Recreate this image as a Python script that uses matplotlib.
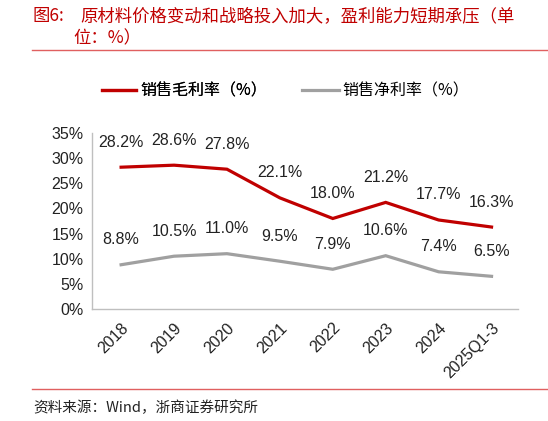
import matplotlib
matplotlib.use("Agg")
import matplotlib.pyplot as plt
from matplotlib.lines import Line2D

plt.rcParams['font.family'] = ['Liberation Sans', 'Noto Sans CJK SC', 'DejaVu Sans']

categories = ["2018", "2019", "2020", "2021", "2022", "2023", "2024", "2025Q1-3"]
gross_margin = [28.2, 28.6, 27.8, 22.1, 18.0, 21.2, 17.7, 16.3]
net_margin = [8.8, 10.5, 11.0, 9.5, 7.9, 10.6, 7.4, 6.5]
yticks = [0, 5, 10, 15, 20, 25, 30, 35]
title_label = "图6:"
title_line1 = "原材料价格变动和战略投入加大，盈利能力短期承压（单"
title_line2 = "位：%）"
source_text = "资料来源：Wind，浙商证券研究所"
legend_labels = ["销售毛利率（%）", "销售净利率（%）"]

RED = "#C00000"
GRAY = "#A0A0A0"
W, H = 548, 421
CJK = ['Noto Sans CJK SC', 'DejaVu Sans']

fig = plt.figure(figsize=(W / 100, H / 100), dpi=100)
ax = fig.add_axes([92 / W, 1 - 309 / H, (518 - 92) / W, (309 - 133) / H])

x = list(range(len(categories)))
l1, = ax.plot(x, gross_margin, color=RED, lw=2.3, solid_joinstyle='miter')
l2, = ax.plot(x, net_margin, color=GRAY, lw=2.3, solid_joinstyle='miter')

for xi, v in zip(x, gross_margin):
    ax.annotate(f"{v:.1f}%", (xi, v), xytext=(0, 18), textcoords='offset points',
                ha='center', va='center', fontsize=11.5, color='#222222')
for xi, v in zip(x, net_margin):
    ax.annotate(f"{v:.1f}%", (xi, v), xytext=(0, 18), textcoords='offset points',
                ha='center', va='center', fontsize=11.5, color='#222222')

ax.set_xlim(-0.55, 7.5)
ax.set_ylim(0, 35)
ax.set_yticks(yticks)
ax.set_yticklabels([f"{t}%" for t in yticks], fontsize=11.5, color='#222222')
ax.set_xticks(x)
ax.set_xticklabels(categories, rotation=45, ha='right', rotation_mode='anchor',
                   fontsize=11.5, color='#222222')
ax.tick_params(axis='both', length=0, pad=6)
ax.tick_params(axis='x', pad=8)
for s in ['top', 'right']:
    ax.spines[s].set_visible(False)
for s in ['left', 'bottom']:
    ax.spines[s].set_color('#BFBFBF')
    ax.spines[s].set_linewidth(1.0)

# Legend (two separate legends to position each entry)
leg1 = fig.legend([l1], [legend_labels[0]], loc='center left',
                  bbox_to_anchor=(88 / W, 1 - 91 / H), frameon=False,
                  handlelength=2.1, handletextpad=0.3, prop={'family': CJK, 'size': 11.5})
leg2 = fig.legend([l2], [legend_labels[1]], loc='center left',
                  bbox_to_anchor=(288 / W, 1 - 91 / H), frameon=False,
                  handlelength=2.3, handletextpad=0.2, prop={'family': CJK, 'size': 11.5})
fig.add_artist(leg1)

# Title
fig.text(33 / W, 1 - 16 / H, title_label, fontsize=12.5, color=RED,
         family=CJK, va='center', ha='left')
fig.text(80 / W, 1 - 16 / H, title_line1, fontsize=12.5, color=RED,
         family=CJK, va='center', ha='left')
fig.text(73 / W, 1 - 38 / H, title_line2, fontsize=12.5, color=RED,
         family=CJK, va='center', ha='left')
fig.add_artist(Line2D([32 / W, 1], [1 - 50 / H, 1 - 50 / H], color='#E06060', lw=1.0))
fig.add_artist(Line2D([32 / W, 1], [1 - 389 / H, 1 - 389 / H], color='#E06060', lw=1.0))
fig.text(33 / W, 1 - 408 / H, source_text, fontsize=10.5, color='#222222',
         family=CJK, va='center', ha='left')

fig.savefig("out.png", dpi=100)
